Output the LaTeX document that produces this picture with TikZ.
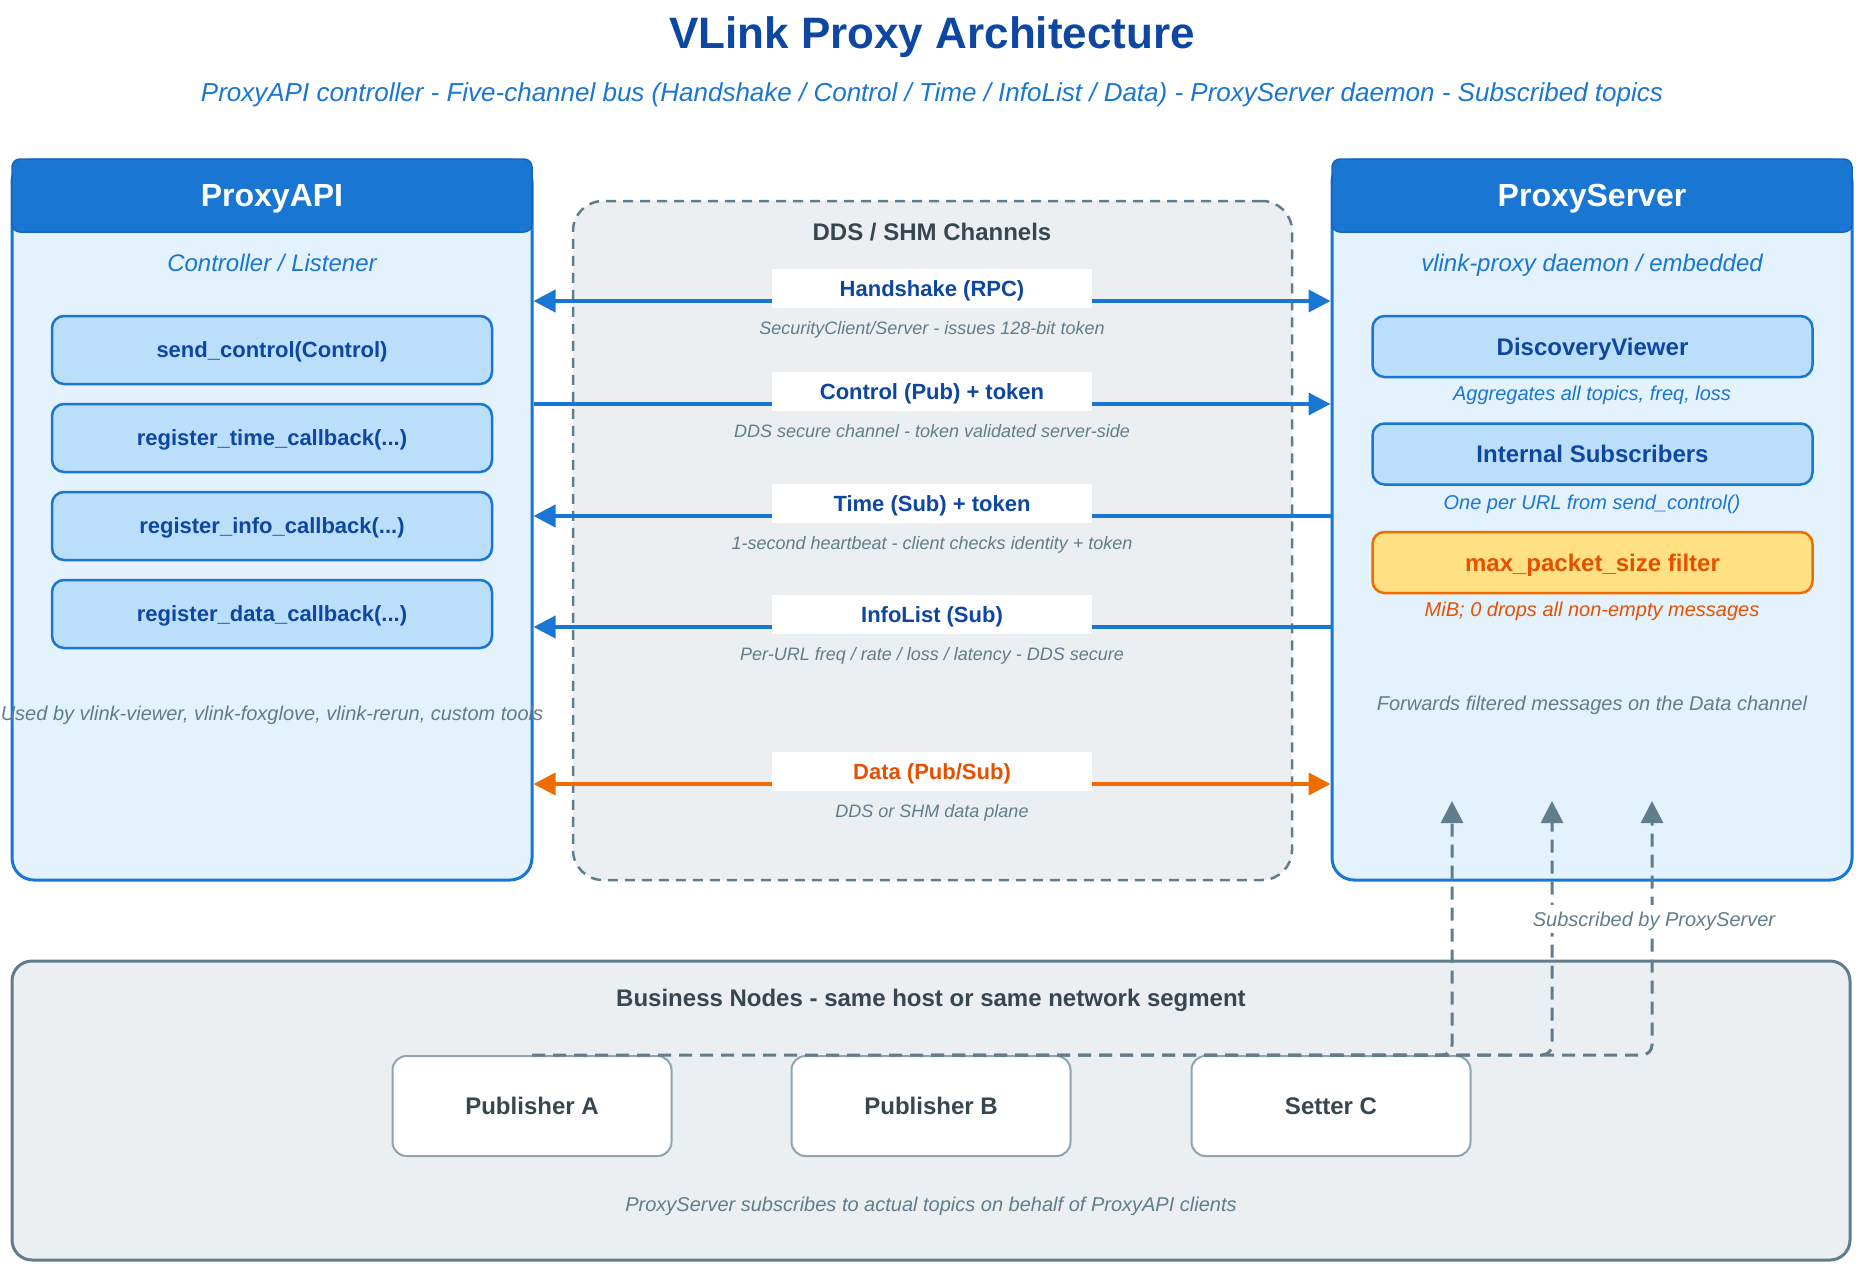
\documentclass[tikz,border=0pt]{standalone}
\usepackage{fontspec}
\setmainfont{Liberation Sans}
\usepackage{tikz}
\usetikzlibrary{arrows.meta,positioning}
\definecolor{darkblue}{HTML}{0D47A1}
\definecolor{midblue}{HTML}{1976D2}
\definecolor{headline}{HTML}{1565C0}
\definecolor{paleblue}{HTML}{E3F2FD}
\definecolor{lightblue}{HTML}{BBDEFB}
\definecolor{slate}{HTML}{607D8B}
\definecolor{darkslate}{HTML}{37474F}
\definecolor{paper}{HTML}{ECEFF1}
\definecolor{publine}{HTML}{90A4AE}
\definecolor{dataorange}{HTML}{EF6C00}
\definecolor{deeporange}{HTML}{E65100}
\definecolor{amber}{HTML}{FFE082}
\newcommand{\cbargs}{(...)}

\begin{document}
\begin{tikzpicture}[x=1pt, y=-1pt, >={Triangle[length=22pt,width=22pt]},
    every node/.append style={text depth=0pt},
    panel/.style={draw=midblue, line width=3pt, fill=paleblue, rounded corners=22pt, minimum width=520pt, minimum height=720pt},
    head/.style={draw=headline, line width=1.5pt, fill=midblue, rounded corners=8pt, minimum width=520pt, minimum height=73pt, text=white, font=\fontsize{32}{38}\selectfont\bfseries},
    tagline/.style={text=midblue, font=\fontsize{24}{28}\selectfont\itshape},
    method/.style={draw=midblue, line width=2.5pt, fill=lightblue, rounded corners=12pt, minimum width=440pt, minimum height=68pt, text=darkblue, font=\fontsize{22}{26}\selectfont\bfseries},
    inner/.style={method, minimum height=61pt, font=\fontsize{24}{28}\selectfont\bfseries},
    srvnote/.style={text=midblue, font=\fontsize{20}{24}\selectfont\itshape},
    note/.style={text=slate, font=\fontsize{20}{24}\selectfont\itshape},
    chan/.style={fill=white, minimum width=320pt, minimum height=39pt, font=\fontsize{22}{26}\selectfont\bfseries},
    chnote/.style={text=slate, font=\fontsize{18}{21}\selectfont\itshape},
    flow/.style={line width=4pt, draw=midblue},
    subflow/.style={->, draw=slate, line width=3pt, dash pattern=on 13pt off 8pt, rounded corners=10pt},
    pub/.style={draw=publine, line width=2pt, fill=white, rounded corners=14pt, minimum width=279pt, minimum height=100pt, text=darkslate, font=\fontsize{24}{28}\selectfont\bfseries}]
\useasboundingbox (0,0) rectangle (1856,1264);

\node[text=darkblue, font=\fontsize{44}{50}\selectfont\bfseries] (title) at (932,33) {VLink Proxy Architecture};
\node[tagline, font=\fontsize{26}{30}\selectfont\itshape] (subtitle) at (932,92) {ProxyAPI controller - Five-channel bus (Handshake / Control / Time / InfoList / Data) - ProxyServer daemon - Subscribed topics};

\node[panel] (api) at (272,520) {};
\node[panel] (srv) at (1592,520) {};
\node[draw=slate, line width=2.5pt, dash pattern=on 10pt off 7pt, fill=paper, rounded corners=30pt, minimum width=719pt, minimum height=679pt] (dds) at (932.5,540.5) {};
\node[draw=slate, line width=3pt, fill=paper, rounded corners=20pt, minimum width=1838pt, minimum height=299pt] (biz) at (931,1110.5) {};

\node[head] (apihead) at (272,195.5) {ProxyAPI};
\node[head] (srvhead) at (1592,195.5) {ProxyServer};
\node[tagline] at (272,263) {Controller / Listener};
\node[tagline] at (1592,263) {vlink-proxy daemon / embedded};

\foreach \n/\y/\t in {m1/350/send\_control(Control), m2/438/register\_time\_callback\cbargs, m3/526/register\_info\_callback\cbargs, m4/614/register\_data\_callback\cbargs}
    \node[method] (\n) at (272,\y) {\t};
\node[note] (usedby) at (272,713) {Used by vlink-viewer, vlink-foxglove, vlink-rerun, custom tools};

\node[inner] (disc) at (1592.5,346.5) {DiscoveryViewer};
\node[srvnote] at (1592,393) {Aggregates all topics, freq, loss};
\node[inner] (isub) at (1592.5,454) {Internal Subscribers};
\node[srvnote] at (1592,502) {One per URL from send\_control()};
\node[inner, draw=dataorange, fill=amber, text=deeporange] (filt) at (1592.5,562.5) {max\_packet\_size filter};
\node[srvnote, text=deeporange] at (1592,609) {MiB; 0 drops all non-empty messages};
\node[note] (fwd) at (1592,703) {Forwards filtered messages on the Data channel};

\node[text=darkslate, font=\fontsize{24}{28}\selectfont\bfseries] (ddstitle) at (932,232) {DDS / SHM Channels};
\coordinate (hs) at (932,301);
\coordinate (ctl) at (932,404);
\coordinate (tim) at (932,516);
\coordinate (info) at (932,627);
\coordinate (data) at (932,784);
\draw[flow, <->] (api.east |- hs) -- (srv.west |- hs);
\draw[flow, ->] (api.east |- ctl) -- (srv.west |- ctl);
\draw[flow, <-] (api.east |- tim) -- (srv.west |- tim);
\draw[flow, <-] (api.east |- info) -- (srv.west |- info);
\draw[flow, <->, draw=dataorange, fill=dataorange] (api.east |- data) -- (srv.west |- data);
\foreach \n/\col/\t/\s in {hs/darkblue/{Handshake (RPC)}/{SecurityClient/Server - issues 128-bit token},
    ctl/darkblue/{Control (Pub) + token}/{DDS secure channel - token validated server-side},
    tim/darkblue/{Time (Sub) + token}/{1-second heartbeat - client checks identity + token},
    info/darkblue/{InfoList (Sub)}/{Per-URL freq / rate / loss / latency - DDS secure},
    data/deeporange/{Data (Pub/Sub)}/{DDS or SHM data plane}}{
    \node[chan, text=\col] (\n-l) at ([yshift=12.5pt]\n) {\t};
    \node[chnote] (\n-n) at ([yshift=-27pt]\n) {\s};
}

\node[text=darkslate, font=\fontsize{24}{28}\selectfont\bfseries] (biztitle) at (931,998) {Business Nodes - same host or same network segment};
\foreach \n/\x/\t in {pubA/532/Publisher A, pubB/931/Publisher B, pubC/1331/Setter C}
    \node[pub] (\n) at (\x,1106) {\t};
\node[note] (biznote) at (931,1204) {ProxyServer subscribes to actual topics on behalf of ProxyAPI clients};

\coordinate (t1) at (1452,801);
\coordinate (t2) at (1552,801);
\coordinate (t3) at (1652,801);
\draw[subflow] (pubA.north) -| (t1);
\draw[subflow] (pubB.north) -| (t2);
\draw[subflow] (pubC.north) -| (t3);
\node[note, fill=white, inner sep=7pt] (subby) at (1654,919) {Subscribed by ProxyServer};
\end{tikzpicture}
\end{document}
